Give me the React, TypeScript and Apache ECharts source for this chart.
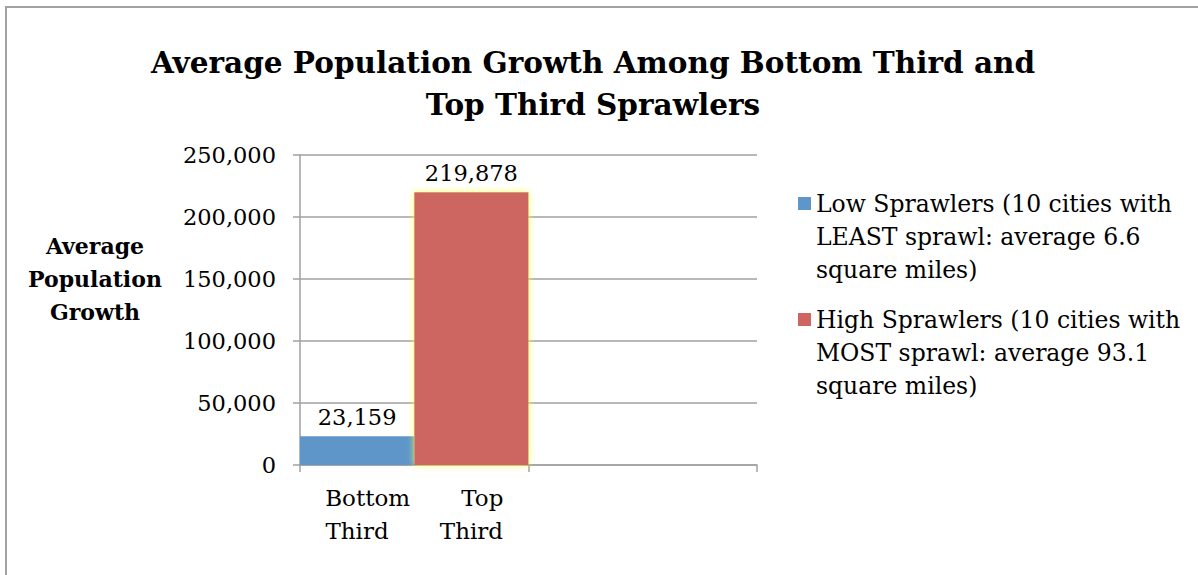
import React, { useEffect, useRef } from "react";
import * as echarts from "echarts";

// Two category slots: the first holds both groups side by side, the second is empty.
const categories = ["Bottom       Top\nThird       Third", ""];

const seriesNames = [
  "Low Sprawlers (10 cities with\nLEAST sprawl: average 6.6\nsquare miles)",
  "High Sprawlers (10 cities with\nMOST sprawl: average 93.1\nsquare miles)",
];

// Average population growth per group.
const lowSprawlers = [23159, null];
const highSprawlers = [219878, null];

const yTicks = [0, 50000, 100000, 150000, 200000, 250000];

const titleText = "Average Population Growth Among Bottom Third and\nTop Third Sprawlers";
const yAxisTitle = "Average\nPopulation\nGrowth";

const FONT = "'DejaVu Serif', 'Liberation Serif', serif";
const GRID_COLOR = "#a0a0a0";
const fmt = (v: number) => v.toLocaleString("en-US");

export default function App() {
  const ref = useRef<HTMLDivElement>(null);

  useEffect(() => {
    if (!ref.current) return;
    const chart = echarts.init(ref.current, undefined, { renderer: "svg" });
    const labelStyle = {
      show: true,
      position: "top" as const,
      distance: 8,
      fontFamily: FONT,
      fontSize: 22.5,
      color: "#000",
      formatter: (p: any) => fmt(p.value),
    };
    chart.setOption({
      animation: false,
      backgroundColor: "#fff",
      title: {
        text: titleText,
        left: 588,
        textAlign: "center",
        top: 36,
        textStyle: {
          fontFamily: FONT,
          fontWeight: "bold",
          fontSize: 29.5,
          lineHeight: 42,
          color: "#000",
        },
      },
      grid: { left: 300, right: 441, top: 155, bottom: 110, containLabel: false },
      legend: {
        orient: "vertical",
        left: 793,
        top: 116,
        itemWidth: 13,
        itemHeight: 13,
        itemGap: -49,
        icon: "rect",
        data: seriesNames,
        // two blank lines above each entry keep its first line level with the swatch
        formatter: (name: string) => "\n\n" + name,
        textStyle: {
          fontFamily: FONT,
          fontSize: 23.5,
          lineHeight: 33,
          color: "#000",
        },
      },
      xAxis: {
        type: "category",
        data: categories,
        axisLine: { show: true, lineStyle: { color: GRID_COLOR, width: 1.5 } },
        axisTick: { show: true, length: 7, lineStyle: { color: GRID_COLOR, width: 1.5 } },
        axisLabel: {
          interval: 0,
          margin: 16,
          fontFamily: FONT,
          fontSize: 23,
          lineHeight: 33,
          color: "#000",
        },
      },
      yAxis: {
        type: "value",
        min: yTicks[0],
        max: yTicks[yTicks.length - 1],
        interval: yTicks[1] - yTicks[0],
        axisLine: { show: true, lineStyle: { color: GRID_COLOR, width: 1.5 } },
        axisTick: { show: true, length: 7, lineStyle: { color: GRID_COLOR, width: 1.5 } },
        splitLine: { show: true, lineStyle: { color: GRID_COLOR, width: 1.5 } },
        axisLabel: {
          margin: 24,
          fontFamily: FONT,
          fontSize: 22.5,
          color: "#000",
          formatter: (v: number) => fmt(v),
        },
      },
      graphic: [
        {
          type: "rect",
          silent: true,
          shape: { x: 6, y: 7, width: 1200, height: 600 },
          style: { fill: "none", stroke: "#a3a3a3", lineWidth: 2 },
        },
        {
          type: "text",
          x: 95,
          y: 279,
          style: {
            text: yAxisTitle,
            align: "center",
            verticalAlign: "middle",
            fontFamily: FONT,
            fontWeight: "bold",
            fontSize: 22,
            lineHeight: 33,
            fill: "#000",
          },
        },
      ],
      series: [
        {
          name: seriesNames[0],
          type: "bar",
          barGap: "0%",
          barCategoryGap: "0%",
          data: lowSprawlers,
          itemStyle: { color: "#5F96C9" },
          label: labelStyle,
        },
        {
          name: seriesNames[1],
          type: "bar",
          barGap: "0%",
          barCategoryGap: "0%",
          data: highSprawlers,
          itemStyle: {
            color: "#CD6660",
            shadowColor: "rgba(255, 255, 60, 0.9)",
            shadowBlur: 6,
          },
          label: labelStyle,
        },
      ],
    });
    return () => chart.dispose();
  }, []);

  return (
    <div
      ref={ref}
      style={{ position: "fixed", left: 0, top: 0, width: 1198, height: 575 }}
    />
  );
}
